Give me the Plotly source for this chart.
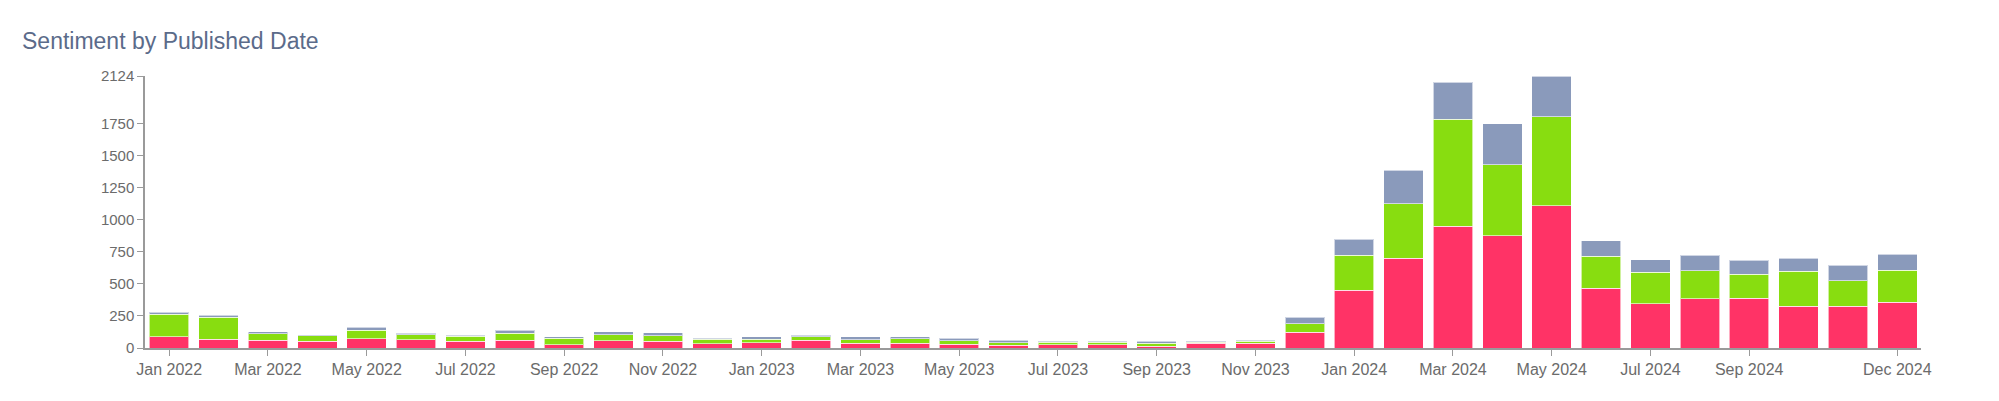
import plotly.graph_objects as go


months = [
    "Jan 2022", "Feb 2022", "Mar 2022", "Apr 2022", "May 2022", "Jun 2022",
    "Jul 2022", "Aug 2022", "Sep 2022", "Oct 2022", "Nov 2022", "Dec 2022",
    "Jan 2023", "Feb 2023", "Mar 2023", "Apr 2023", "May 2023", "Jun 2023",
    "Jul 2023", "Aug 2023", "Sep 2023", "Oct 2023", "Nov 2023", "Dec 2023",
    "Jan 2024", "Feb 2024", "Mar 2024", "Apr 2024", "May 2024", "Jun 2024",
    "Jul 2024", "Aug 2024", "Sep 2024", "Oct 2024", "Nov 2024", "Dec 2024",
]

negative = [88, 67, 60, 52, 73, 65, 52, 62, 26, 57, 52, 34,
            42, 62, 39, 36, 31, 21, 26, 26, 15, 36, 36, 122,
            452, 702, 952, 878, 1112, 465, 346, 385, 387, 325, 327, 359]
positive = [177, 172, 52, 44, 64, 39, 39, 52, 49, 47, 44, 33,
            25, 26, 26, 37, 26, 19, 18, 18, 24, 8, 16, 68,
            273, 424, 834, 554, 692, 250, 247, 218, 190, 275, 198, 249]
neutral = [16, 15, 13, 3, 24, 13, 10, 23, 11, 21, 23, 8,
           21, 13, 23, 15, 21, 22, 8, 8, 13, 8, 10, 52,
           125, 262, 291, 318, 320, 122, 98, 122, 109, 102, 122, 125]

# x labels shown (every other month, Nov 2024 skipped)
tick_months = ["Jan 2022", "Mar 2022", "May 2022", "Jul 2022", "Sep 2022", "Nov 2022",
               "Jan 2023", "Mar 2023", "May 2023", "Jul 2023", "Sep 2023", "Nov 2023",
               "Jan 2024", "Mar 2024", "May 2024", "Jul 2024", "Sep 2024", "Dec 2024"]
y_ticks = [0, 250, 500, 750, 1000, 1250, 1500, 1750, 2124]

colors = {"Negative": "#FF3366", "Positive": "#88DD10", "Neutral": "#8A9ABB"}
font = "Liberation Sans, Arial, sans-serif"

fig = go.Figure()
for name, vals in [("Negative", negative), ("Positive", positive), ("Neutral", neutral)]:
    fig.add_trace(go.Bar(
        x=months, y=vals, name=name,
        marker=dict(color=colors[name], line=dict(color="rgba(255,255,255,0.6)", width=1)),
    ))

fig.update_layout(
    barmode="stack",
    bargap=0.2,
    width=1999,
    height=401,
    margin=dict(l=145, r=78, t=76, b=53),
    showlegend=False,
    plot_bgcolor="white",
    paper_bgcolor="white",
    title=dict(
        text="Sentiment by Published Date",
        font=dict(family=font, size=23, color="#5B6B8A"),
        xref="container", x=22 / 1999, xanchor="left",
        yref="container", y=1 - 41 / 401, yanchor="middle",
    ),
)
fig.update_xaxes(
    type="category",
    range=[-0.49, 35.48],
    tickvals=tick_months,
    ticktext=tick_months,
    showline=True, linecolor="#9A9A9A", linewidth=1.5,
    ticks="outside", ticklen=6, tickcolor="#9A9A9A",
    showgrid=False,
    tickfont=dict(family=font, size=16, color="#6B6B6B"),
)
fig.update_yaxes(
    range=[0, max(n + p + u for n, p, u in zip(negative, positive, neutral))],
    tickvals=y_ticks,
    showline=True, linecolor="#9A9A9A", linewidth=1.5,
    ticks="outside", ticklen=6, tickcolor="#9A9A9A",
    showgrid=False, zeroline=False,
    tickfont=dict(family=font, size=15, color="#6B6B6B"),
)

# page has a default 8px body margin, drop it so the chart sits at 0,0
fig.write_html("out.html", config={"displayModeBar": False},
               post_script="document.body.style.margin='0';")
